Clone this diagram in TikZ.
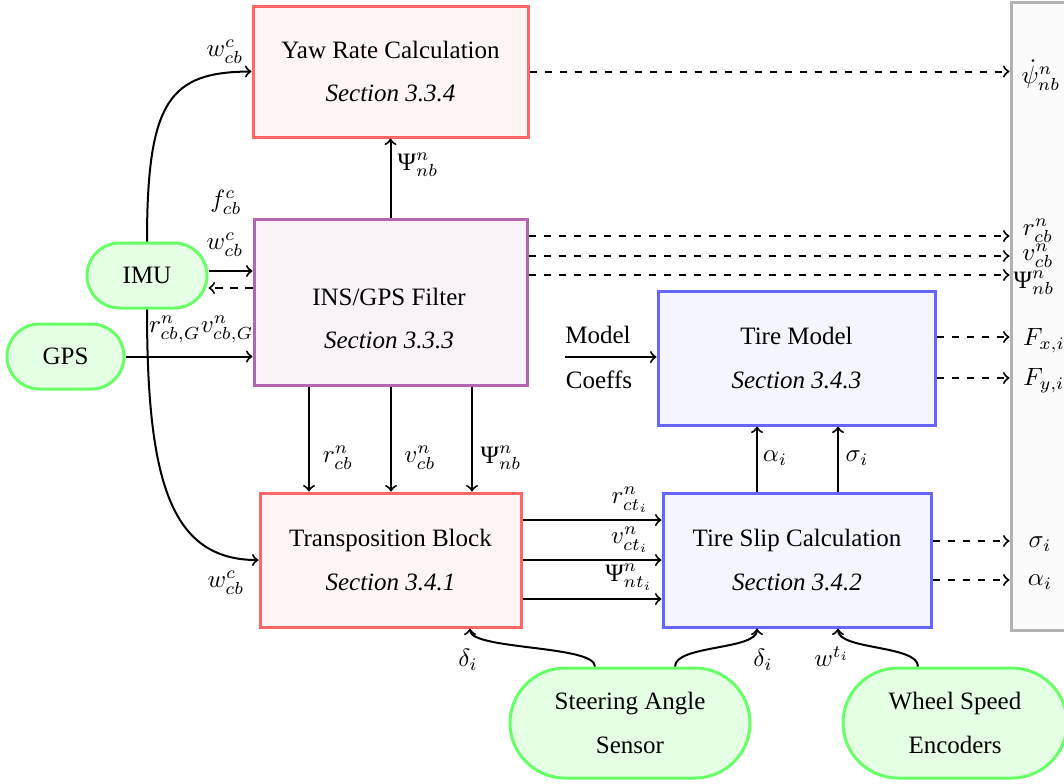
\documentclass[tikz,border=0pt]{standalone}
\usepackage{fontspec}
\setmainfont{Liberation Serif}
\newcommand{\PsiT}{\mbox{Ψ}}

\begin{document}
\begin{tikzpicture}[x=0.4pt, y=-0.4pt,
  font=\fontsize{10}{12}\selectfont,
  box/.style={draw, line width=1.2pt, align=center, inner sep=0pt},
  redbox/.style={box, draw=red!60, fill=red!4},
  insbox/.style={box, draw=violet!60, fill=violet!5},
  bluebox/.style={box, draw=blue!60, fill=blue!4},
  outbox/.style={box, draw=gray!60, fill=gray!3},
  pill/.style={draw=green!60, fill=green!10, line width=1.2pt, align=center, inner sep=0pt},
  arr/.style={->, line width=0.8pt},
  darr/.style={arr, dashed},
  lbl/.style={inner sep=0pt}]

\useasboundingbox (0,0) rectangle (1064,783);
\clip (0,0) rectangle (1064,783);

% outputs collector on the right
\node[outbox, minimum width=31.6pt, minimum height=251.2pt] (out) at (1050.5,316) {};

% processing blocks
\node[redbox, minimum width=110pt, minimum height=52.4pt] (yaw) at (390.5,71.5)
  {Yaw Rate Calculation\\[5.5pt]\textit{Section 3.3.4}};
\node[insbox, minimum width=109.2pt, minimum height=66.4pt] (ins) at (390.5,302) {};
\node[lbl, align=center] (insText) at (389,318.5)
  {INS/GPS Filter\\[5.5pt]\textit{Section 3.3.3}};
\node[bluebox, minimum width=110.8pt, minimum height=53.6pt] (tm) at (796.5,358)
  {Tire Model\\[5.5pt]\textit{Section 3.4.3}};
\node[redbox, minimum width=104.4pt, minimum height=53.6pt] (tb) at (390.5,560)
  {Transposition Block\\[5.5pt]\textit{Section 3.4.1}};
\node[bluebox, minimum width=107.2pt, minimum height=53.6pt] (ts) at (797,560)
  {Tire Slip Calculation\\[5.5pt]\textit{Section 3.4.2}};

% sensors
\node[pill, minimum width=48pt, minimum height=26pt, rounded corners=13pt] (imu) at (147,275.5) {IMU};
\node[pill, minimum width=46.8pt, minimum height=26pt, rounded corners=13pt] (gps) at (65.5,356.5) {GPS};
\node[pill, minimum width=96pt, minimum height=44pt, rounded corners=22pt] (sas) at (630,723)
  {Steering Angle\\[5.5pt]Sensor};
\node[pill, minimum width=89.6pt, minimum height=44pt, rounded corners=22pt] (wse) at (955,723)
  {Wheel Speed\\[5.5pt]Encoders};

% IMU and GPS inputs
\draw[arr] (imu.north) .. controls (147,100) and (170,72) .. (yaw.west)
  node[lbl] (lw1) at (225,52) {$w^c_{cb}$};
\draw[arr] (imu.south) .. controls (147,480) and (170,560) .. (tb.west)
  node[lbl] (lw2) at (226,583) {$w^c_{cb}$};
\draw[arr] (imu.east |- 0,271) -- (ins.west |- 0,271)
  node[lbl] (lf) at (226,202) {$f^c_{cb}$}
  node[lbl] (lw3) at (225,245) {$w^c_{cb}$};
\draw[darr] (ins.west |- 0,288) -- (imu.east |- 0,288);
\draw[arr] (gps.east) -- (ins.west |- gps.east)
  node[lbl, anchor=west] (lg) at (148,329) {$r^n_{cb,G}v^n_{cb,G}$};

% INS/GPS filter outputs
\draw[arr] (ins.north) -- (yaw.south)
  node[lbl] (lpy) at (418,165) {$\PsiT^n_{nb}$};
\draw[arr] (309,0 |- ins.south) -- (309,0 |- tb.north)
  node[lbl] (lr) at (338,458) {$r^n_{cb}$};
\draw[arr] (391,0 |- ins.south) -- (391,0 |- tb.north)
  node[lbl] (lv) at (420,458) {$v^n_{cb}$};
\draw[arr] (472,0 |- ins.south) -- (472,0 |- tb.north)
  node[lbl] (lp) at (501,458) {$\PsiT^n_{nb}$};

\draw[darr] (yaw.east) -- (out.west |- yaw.east)
  node[lbl] (oyaw) at (1041,75) {$\dot{\psi}^n_{nb}$};
\draw[darr] (ins.east |- 0,236) -- (out.west |- 0,236)
  node[lbl] (or) at (1038,231) {$r^n_{cb}$};
\draw[darr] (ins.east |- 0,256) -- (out.west |- 0,256)
  node[lbl] (ov) at (1038,256) {$v^n_{cb}$};
\draw[darr] (ins.east |- 0,275) -- (out.west |- 0,275)
  node[lbl] (op) at (1034,283) {$\PsiT^n_{nb}$};

% tire model
\coordinate (mc) at (565,357);
\draw[arr] (mc) -- (tm.west |- mc)
  node[lbl] (lm) at (598,335) {Model}
  node[lbl] (lc) at (599,380) {Coeffs};
\draw[darr] (tm.east |- 0,337) -- (out.west |- 0,337)
  node[lbl] (ofx) at (1044,341) {$F_{x,i}$};
\draw[darr] (tm.east |- 0,378) -- (out.west |- 0,378)
  node[lbl] (ofy) at (1044,381) {$F_{y,i}$};

% transposition to tire slip
\draw[arr] (tb.east |- 0,520) -- (ts.west |- 0,520)
  node[lbl] (lrt) at (630,500) {$r^n_{ct_i}$};
\draw[arr] (tb.east |- 0,560) -- (ts.west |- 0,560)
  node[lbl] (lvt) at (630,540) {$v^n_{ct_i}$};
\draw[arr] (tb.east |- 0,599) -- (ts.west |- 0,599)
  node[lbl] (lpt) at (629,577) {$\PsiT^n_{nt_i}$};

% tire slip outputs
\draw[arr] (757,0 |- ts.north) -- (757,0 |- tm.south)
  node[lbl] (la) at (775,458) {$\alpha_i$};
\draw[arr] (838,0 |- ts.north) -- (838,0 |- tm.south)
  node[lbl] (ls) at (857,458) {$\sigma_i$};
\draw[darr] (ts.east |- 0,541) -- (out.west |- 0,541)
  node[lbl] (os) at (1040,544) {$\sigma_i$};
\draw[darr] (ts.east |- 0,580) -- (out.west |- 0,580)
  node[lbl] (oa) at (1040,582) {$\alpha_i$};

% steering angle and wheel speed inputs
\draw[arr] (595,0 |- sas.north) .. controls (595,645) and (470,650) .. (470,0 |- tb.south)
  node[lbl] (ld1) at (468,660) {$\delta_i$};
\draw[arr] (675,0 |- sas.north) .. controls (675,645) and (757,650) .. (757,0 |- ts.south)
  node[lbl] (ld2) at (763,660) {$\delta_i$};
\draw[arr] (918,0 |- wse.north) .. controls (918,645) and (838,650) .. (838,0 |- ts.south)
  node[lbl] (lwt) at (832,657) {$w^{t_i}$};
\end{tikzpicture}
\end{document}
